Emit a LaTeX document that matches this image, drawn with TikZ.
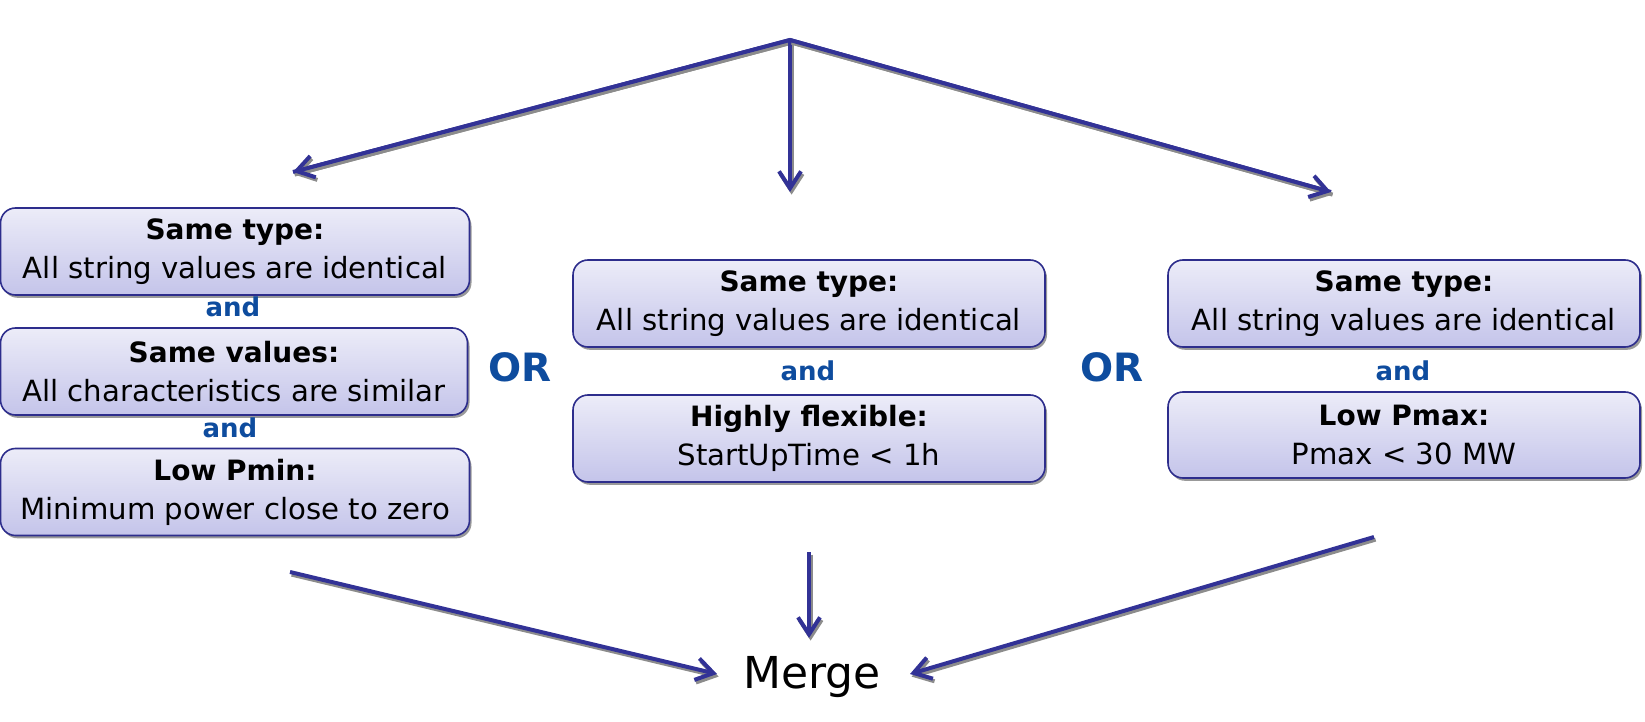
\documentclass[tikz,border=0pt]{standalone}
\usepackage{fontspec}
\setmainfont{DejaVu Sans}
\usetikzlibrary{arrows.meta,shadows}
\definecolor{lineblue}{RGB}{50,50,150}
\definecolor{boxborder}{RGB}{45,45,140}
\definecolor{andblue}{RGB}{14,76,158}
\definecolor{boxtop}{RGB}{236,236,248}
\definecolor{boxbot}{RGB}{196,196,234}
\newcommand{\hd}[1]{{\fontsize{14}{19.5}\selectfont\bfseries #1}}
\tikzset{
  cbox/.style={draw=boxborder, line width=0.8pt, rounded corners=7.5pt,
    top color=boxtop, bottom color=boxbot,
    drop shadow={shadow xshift=1pt, shadow yshift=-1.4pt, fill=black, opacity=0.4},
    minimum width=235pt, minimum height=43.5pt, align=center,
    font=\fontsize{14.6}{19.5}\selectfont, inner sep=0pt},
  andlbl/.style={font=\fontsize{13}{15}\selectfont\bfseries, text=andblue, inner sep=0pt},
  orlbl/.style={font=\fontsize{19.5}{22}\selectfont\bfseries, text=andblue, inner sep=0pt},
  conn/.style={draw=lineblue, line width=2pt,
    -{Straight Barb[length=8.5pt,width=11pt,line width=2pt]},
    preaction={draw=black!45, line width=2pt,
      -{Straight Barb[length=8.5pt,width=11pt,line width=2pt]},
      transform canvas={shift={(0.8pt,-1.3pt)}}}},
  connn/.style={draw=lineblue, line width=2pt,
    preaction={draw=black!45, line width=2pt,
      transform canvas={shift={(0.8pt,-1.3pt)}}}}
}
\begin{document}
\begin{tikzpicture}[x=0.5pt,y=-0.5pt]
\useasboundingbox (0,0) rectangle (1645,722);
% boxes
\node[cbox, minimum width=234.5pt] (l1) at (235,251.5) {\hd{Same type:}\\All string values are identical};
\node[cbox, minimum width=233.5pt] (l2) at (234,371.5) {\hd{Same values:}\\All characteristics are similar};
\node[cbox, minimum width=234.5pt] (l3) at (235,492) {\hd{Low Pmin:}\\Minimum power close to zero};
\node[cbox, minimum width=236pt] (m1) at (809,303.5) {\hd{Same type:}\\All string values are identical};
\node[cbox, minimum width=236pt] (m2) at (809,438.5) {\hd{Highly flexible:}\\StartUpTime < 1h};
\node[cbox, minimum width=236pt] (r1) at (1404,303.5) {\hd{Same type:}\\All string values are identical};
\node[cbox, minimum width=236pt, minimum height=43pt] (r2) at (1404,435) {\hd{Low Pmax:}\\Pmax < 30 MW};
% labels
\node[andlbl] (a1) at (233,307) {and};
\node[andlbl] (a2) at (230,428) {and};
\node[andlbl] (a3) at (808,371) {and};
\node[andlbl] (a4) at (1403,371) {and};
\node[orlbl] (or1) at (520,367) {OR};
\node[orlbl] (or2) at (1112,367) {OR};
\node[font=\fontsize{22}{26}\selectfont, inner sep=0pt] (merge) at (812,677) {Merge};
% coordinates
\coordinate (apex) at (790,40);
\coordinate (tl) at (293,172);
\coordinate (tm) at (790,192);
\coordinate (tr) at (1331,192);
\coordinate (bl0) at (290,572);
\coordinate (bl1) at (717,674);
\coordinate (bm0) at (809,552);
\coordinate (bm1) at (809,638);
\coordinate (br0) at (1374,537);
\coordinate (br1) at (910,674);
% connectors
\draw[connn] (tl) -- (apex) -- (tr);
\draw[conn] (apex) -- (tl);
\draw[conn] (apex) -- (tm);
\draw[conn] (apex) -- (tr);
\draw[conn] (bl0) -- (bl1);
\draw[conn] (bm0) -- (bm1);
\draw[conn] (br0) -- (br1);
\end{tikzpicture}
\end{document}
